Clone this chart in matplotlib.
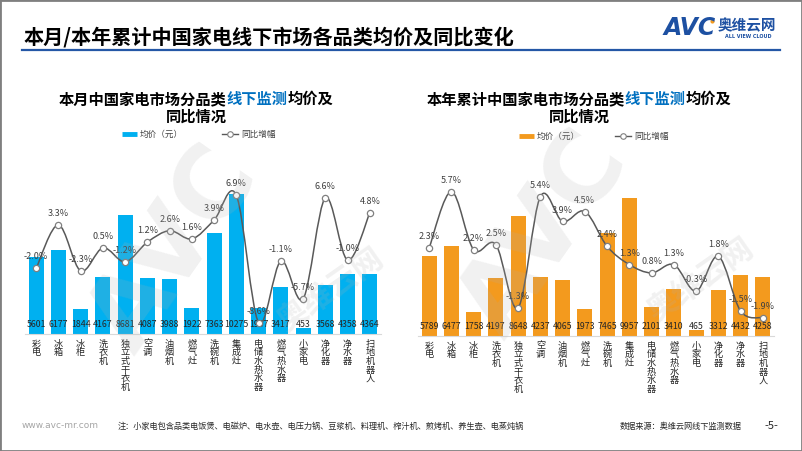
import numpy as np
import matplotlib.pyplot as plt
from matplotlib.path import Path
from matplotlib.patches import PathPatch, Rectangle
from matplotlib.lines import Line2D

plt.rcParams['font.family'] = ['Noto Sans CJK SC', 'DejaVu Sans']

categories = ["彩电", "冰箱", "冰柜", "洗衣机", "独立式干衣机", "空调", "油烟机", "燃气灶",
              "洗碗机", "集成灶", "电储水热水器", "燃气热水器", "小家电", "净化器", "净水器", "扫地机器人"]
month_price = [5601, 6177, 1844, 4167, 8681, 4087, 3988, 1922, 7363, 10275, 1907, 3417, 453, 3568, 4358, 4364]
month_yoy = [-2.0, 3.3, -2.3, 0.5, -1.2, 1.2, 2.6, 1.6, 3.9, 6.9, -8.6, -1.1, -5.7, 6.6, -1.0, 4.8]
year_price = [5789, 6477, 1758, 4197, 8648, 4237, 4065, 1973, 7465, 9957, 2101, 3410, 465, 3312, 4432, 4258]
year_yoy = [2.3, 5.7, 2.2, 2.5, -1.3, 5.4, 3.9, 4.5, 2.4, 1.3, 0.8, 1.3, -0.3, 1.8, -1.5, -1.9]

W, H = 802, 451
fig = plt.figure(figsize=(W / 100, H / 100), dpi=100)


def fx(x):
    return x / W


def fy(y):
    return 1 - y / H


def smooth_path(xs, ys):
    # excel-like smoothed line: catmull-rom segments as cubic beziers
    pts = np.column_stack([xs, ys]).astype(float)
    n = len(pts)
    verts = [pts[0]]
    codes = [Path.MOVETO]
    for i in range(n - 1):
        p0 = pts[i - 1] if i > 0 else pts[i]
        p1 = pts[i]
        p2 = pts[i + 1]
        p3 = pts[i + 2] if i + 2 < n else pts[i + 1]
        verts += [p1 + (p2 - p0) / 6, p2 - (p3 - p1) / 6, p2]
        codes += [Path.CURVE4] * 3
    return Path(verts, codes)


def draw_chart(left, bottom, height, prices, yoy, color, ylim2):
    ax = fig.add_axes([fx(left), fy(bottom), fx(356), height / H])
    ax.set_facecolor('none')
    x = np.arange(len(categories))
    ax.bar(x, prices, width=0.68, color=color, zorder=2)
    ax.set_xlim(-0.5, len(categories) - 0.5)
    ax.set_ylim(0, 12000)
    for i, v in enumerate(prices):
        ax.text(i, 680, str(v), ha='center', va='center', fontsize=6.3,
                color='#262626', zorder=3)
    ax.set_xticks(x, ['\n'.join(c) for c in categories], fontsize=6.6,
                  color='#262626', linespacing=0.95, va='top')
    ax.tick_params(axis='x', length=0, pad=4)
    ax.set_yticks([])
    for s in ['top', 'left', 'right']:
        ax.spines[s].set_visible(False)
    ax.spines['bottom'].set_color('#d9d9d9')

    ax2 = ax.twinx()
    ax2.set_ylim(*ylim2)
    ax2.add_patch(PathPatch(smooth_path(x, yoy), fill=False,
                            edgecolor='#595959', lw=1.1, zorder=3))
    ax2.plot(x, yoy, 'o', mfc='white', mec='#808080', ms=4.5, mew=0.9, zorder=4)
    for i, v in enumerate(yoy):
        ax2.annotate(f"{v:.1f}%", (i, v), xytext=(0, 5), textcoords='offset points',
                     ha='center', va='bottom', fontsize=6.5, color='#404040', zorder=5)
    ax2.set_yticks([])
    for s in ax2.spines.values():
        s.set_visible(False)
    return ax


draw_chart(25, 334, 164, month_price, month_yoy, '#00b0f0', (-10, 10))
draw_chart(418, 336, 166, year_price, year_yoy, '#f39a1e', (-3, 7))

# titles
fig.text(fx(24), fy(37), "本月/本年累计中国家电线下市场各品类均价及同比变化",
         fontsize=14.5, fontweight='bold', color='#000000', va='center')
fig.add_artist(Line2D([fx(22), fx(780)], [fy(50), fy(50)], color='#2457a6', lw=1.6))

renderer = fig.canvas.get_renderer()


def colored_line(cx, y, parts, size=11):
    texts = []
    for s, c in parts:
        t = fig.text(0, fy(y), s, fontsize=size, fontweight='bold', color=c, va='center')
        texts.append(t)
    widths = [t.get_window_extent(renderer).width for t in texts]
    x0 = cx - sum(widths) / 2
    for t, w in zip(texts, widths):
        t.set_x(fx(x0))
        x0 += w


for cx, head in [(196, "本月中国家电市场分品类"), (579, "本年累计中国家电市场分品类")]:
    colored_line(cx, 99, [(head, '#000000'), ("线下监测", '#0070c0'), ("均价及", '#000000')])
    fig.text(fx(cx), fy(117), "同比情况", fontsize=11, fontweight='bold', ha='center', va='center')

# legends
for (bx, lx, y, color) in [(122, 222, 134, '#00b0f0'), (519, 615, 136, '#f39a1e')]:
    fig.add_artist(Line2D([fx(bx), fx(bx + 15)], [fy(y), fy(y)], color=color, lw=3.5,
                          solid_capstyle='butt'))
    fig.text(fx(bx + 18), fy(y), "均价（元）", fontsize=6.2, color='#404040', va='center')
    fig.add_artist(Line2D([fx(lx), fx(lx + 16)], [fy(y), fy(y)], color='#595959', lw=1))
    fig.add_artist(Line2D([fx(lx + 8)], [fy(y)], marker='o', mfc='white', mec='#808080',
                          ms=4, mew=0.8))
    fig.text(fx(lx + 19), fy(y), "同比增幅", fontsize=6.2, color='#404040', va='center')

# logo
fig.text(fx(664), fy(28), "AVC", fontsize=17, fontweight='black', fontstyle='italic',
         color='#1d50a2', va='center', family='DejaVu Sans')
fig.add_artist(Line2D([fx(712)], [fy(21)], marker='o', color='#f39a1e', ms=3, mew=0))
fig.text(fx(718), fy(25), "奥维云网", fontsize=10.5, fontweight='bold', color='#1d50a2', va='center')
fig.text(fx(748), fy(37), "ALL VIEW CLOUD", fontsize=3.5, color='#1d50a2', ha='center',
         va='center', family='DejaVu Sans', fontweight='bold')

# watermarks
for (wx, wy) in [(175, 250), (545, 235)]:
    fig.text(fx(wx), fy(wy), "AVC", fontsize=72, fontweight='black', color='#b0b0b0',
             alpha=0.18, rotation=55, ha='center', va='center', family='DejaVu Sans')
for (wx, wy) in [(330, 290), (700, 280)]:
    fig.text(fx(wx), fy(wy), "奥维云网", fontsize=22, fontweight='bold', color='#b0b0b0',
             alpha=0.18, rotation=35, ha='center', va='center')

# footer
fig.text(fx(22), fy(426), "www.avc-mr.com", fontsize=6.5, color='#a6a6a6', va='center',
         family='DejaVu Sans')
fig.text(fx(118), fy(426), "注：小家电包含品类电饭煲、电磁炉、电水壶、电压力锅、豆浆机、料理机、榨汁机、煎烤机、养生壶、电蒸炖锅",
         fontsize=5.9, color='#262626', va='center')
fig.text(fx(620), fy(426), "数据来源：奥维云网线下监测数据", fontsize=5.9, color='#262626', va='center')
fig.text(fx(771), fy(426), "-5-", fontsize=8, color='#262626', va='center', ha='center')

fig.add_artist(Rectangle((0, 0), 1, 1, transform=fig.transFigure, fill=False,
                         edgecolor='#7f7f7f', lw=2))

fig.savefig('out.png', dpi=100)
